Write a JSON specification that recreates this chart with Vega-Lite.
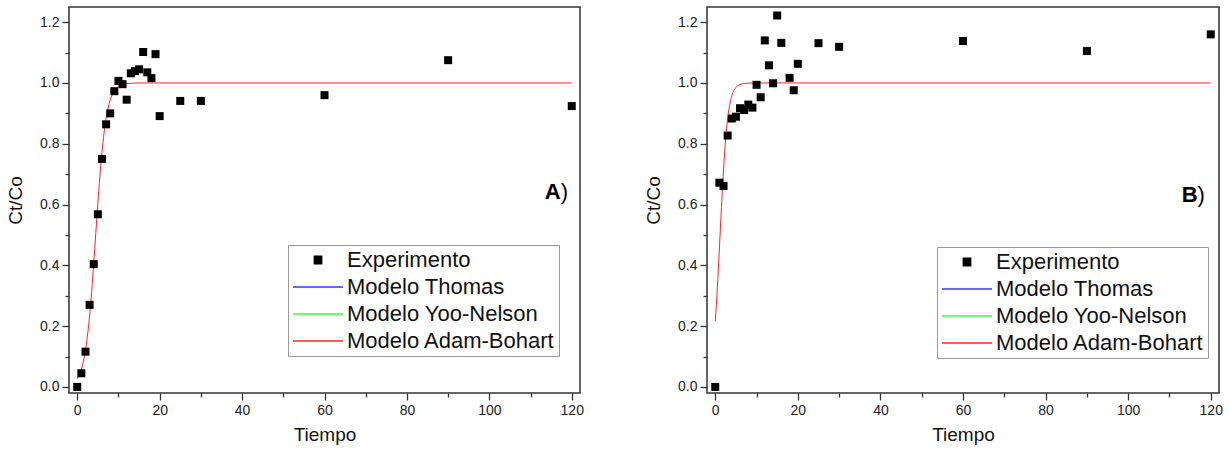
{
  "$schema": "https://vega.github.io/schema/vega-lite/v6.json",
  "padding": {"left": 5, "top": 6, "right": 5, "bottom": 2},
  "background": "white",
  "config": {
    "view": {"stroke": "#333", "strokeWidth": 1.5},
    "font": "Liberation Sans",
    "axis": {"labelFont": "Liberation Sans", "labelFontSize": 14, "labelColor": "#222", "titleFont": "Liberation Sans", "titleFontSize": 19, "titleFontWeight": "normal", "titleColor": "#111", "grid": false, "domain": false, "tickColor": "#333", "tickSize": 7, "tickWidth": 1.3, "labelPadding": 3, "titlePadding": 8},
    "axisY": {"titlePadding": 14},
    "legend": {"labelFont": "Liberation Sans", "labelFontSize": 22, "labelColor": "#111", "strokeColor": "#999", "fillColor": "white", "padding": 4, "labelOffset": 3, "rowPadding": 5, "symbolStrokeWidth": 1.2, "symbolSize": 2500, "symbolType": "stroke", "clipHeight": 22, "labelLimit": 400}
  },
  "datasets": {
    "ptsA": [
      {"t": 0, "c": 0.0, "series": "Experimento"}, {"t": 1, "c": 0.045, "series": "Experimento"}, {"t": 2, "c": 0.116, "series": "Experimento"},
      {"t": 3, "c": 0.27, "series": "Experimento"}, {"t": 4, "c": 0.404, "series": "Experimento"}, {"t": 5, "c": 0.568, "series": "Experimento"},
      {"t": 6, "c": 0.75, "series": "Experimento"}, {"t": 7, "c": 0.864, "series": "Experimento"}, {"t": 8, "c": 0.9, "series": "Experimento"},
      {"t": 9, "c": 0.973, "series": "Experimento"}, {"t": 10, "c": 1.007, "series": "Experimento"}, {"t": 11, "c": 0.996, "series": "Experimento"},
      {"t": 12, "c": 0.945, "series": "Experimento"}, {"t": 13, "c": 1.032, "series": "Experimento"}, {"t": 14, "c": 1.039, "series": "Experimento"},
      {"t": 15, "c": 1.045, "series": "Experimento"}, {"t": 16, "c": 1.102, "series": "Experimento"}, {"t": 17, "c": 1.035, "series": "Experimento"},
      {"t": 18, "c": 1.016, "series": "Experimento"}, {"t": 19, "c": 1.095, "series": "Experimento"}, {"t": 20, "c": 0.891, "series": "Experimento"},
      {"t": 25, "c": 0.941, "series": "Experimento"}, {"t": 30, "c": 0.941, "series": "Experimento"}, {"t": 60, "c": 0.96, "series": "Experimento"},
      {"t": 90, "c": 1.075, "series": "Experimento"}, {"t": 120, "c": 0.924, "series": "Experimento"}
    ],
    "curveA": [
      {"t": 0, "c": 0.027, "series": "Modelo Adam-Bohart"}, {"t": 0.5, "c": 0.04, "series": "Modelo Adam-Bohart"}, {"t": 1, "c": 0.058, "series": "Modelo Adam-Bohart"},
      {"t": 1.5, "c": 0.085, "series": "Modelo Adam-Bohart"}, {"t": 2, "c": 0.121, "series": "Modelo Adam-Bohart"}, {"t": 2.5, "c": 0.171, "series": "Modelo Adam-Bohart"},
      {"t": 3, "c": 0.235, "series": "Modelo Adam-Bohart"}, {"t": 3.5, "c": 0.314, "series": "Modelo Adam-Bohart"}, {"t": 4, "c": 0.406, "series": "Modelo Adam-Bohart"},
      {"t": 4.5, "c": 0.505, "series": "Modelo Adam-Bohart"}, {"t": 5, "c": 0.604, "series": "Modelo Adam-Bohart"}, {"t": 5.5, "c": 0.694, "series": "Modelo Adam-Bohart"},
      {"t": 6, "c": 0.772, "series": "Modelo Adam-Bohart"}, {"t": 6.5, "c": 0.835, "series": "Modelo Adam-Bohart"}, {"t": 7, "c": 0.883, "series": "Modelo Adam-Bohart"},
      {"t": 7.5, "c": 0.918, "series": "Modelo Adam-Bohart"}, {"t": 8, "c": 0.944, "series": "Modelo Adam-Bohart"}, {"t": 9, "c": 0.974, "series": "Modelo Adam-Bohart"},
      {"t": 10, "c": 0.988, "series": "Modelo Adam-Bohart"}, {"t": 11, "c": 0.995, "series": "Modelo Adam-Bohart"}, {"t": 12, "c": 0.998, "series": "Modelo Adam-Bohart"},
      {"t": 13, "c": 0.999, "series": "Modelo Adam-Bohart"}, {"t": 15, "c": 1.0, "series": "Modelo Adam-Bohart"}, {"t": 20, "c": 1.0, "series": "Modelo Adam-Bohart"},
      {"t": 120, "c": 1.0, "series": "Modelo Adam-Bohart"}
    ],
    "ptsB": [
      {"t": 0, "c": 0.0, "series": "Experimento"}, {"t": 1, "c": 0.672, "series": "Experimento"}, {"t": 2, "c": 0.661, "series": "Experimento"},
      {"t": 3, "c": 0.827, "series": "Experimento"}, {"t": 4, "c": 0.883, "series": "Experimento"}, {"t": 5, "c": 0.889, "series": "Experimento"},
      {"t": 6, "c": 0.917, "series": "Experimento"}, {"t": 7, "c": 0.911, "series": "Experimento"}, {"t": 8, "c": 0.929, "series": "Experimento"},
      {"t": 9, "c": 0.919, "series": "Experimento"}, {"t": 10, "c": 0.994, "series": "Experimento"}, {"t": 11, "c": 0.953, "series": "Experimento"},
      {"t": 12, "c": 1.14, "series": "Experimento"}, {"t": 13, "c": 1.058, "series": "Experimento"}, {"t": 14, "c": 0.999, "series": "Experimento"},
      {"t": 15, "c": 1.222, "series": "Experimento"}, {"t": 16, "c": 1.132, "series": "Experimento"}, {"t": 18, "c": 1.017, "series": "Experimento"},
      {"t": 19, "c": 0.976, "series": "Experimento"}, {"t": 20, "c": 1.063, "series": "Experimento"}, {"t": 25, "c": 1.131, "series": "Experimento"},
      {"t": 30, "c": 1.119, "series": "Experimento"}, {"t": 60, "c": 1.138, "series": "Experimento"}, {"t": 90, "c": 1.105, "series": "Experimento"},
      {"t": 120, "c": 1.16, "series": "Experimento"}
    ],
    "curveB": [
      {"t": 0, "c": 0.217, "series": "Modelo Adam-Bohart"}, {"t": 0.25, "c": 0.267, "series": "Modelo Adam-Bohart"}, {"t": 0.5, "c": 0.325, "series": "Modelo Adam-Bohart"},
      {"t": 0.75, "c": 0.387, "series": "Modelo Adam-Bohart"}, {"t": 1, "c": 0.454, "series": "Modelo Adam-Bohart"}, {"t": 1.25, "c": 0.523, "series": "Modelo Adam-Bohart"},
      {"t": 1.5, "c": 0.591, "series": "Modelo Adam-Bohart"}, {"t": 1.75, "c": 0.655, "series": "Modelo Adam-Bohart"}, {"t": 2, "c": 0.714, "series": "Modelo Adam-Bohart"},
      {"t": 2.5, "c": 0.813, "series": "Modelo Adam-Bohart"}, {"t": 3, "c": 0.883, "series": "Modelo Adam-Bohart"}, {"t": 3.5, "c": 0.929, "series": "Modelo Adam-Bohart"},
      {"t": 4, "c": 0.958, "series": "Modelo Adam-Bohart"}, {"t": 5, "c": 0.985, "series": "Modelo Adam-Bohart"}, {"t": 6, "c": 0.995, "series": "Modelo Adam-Bohart"},
      {"t": 7, "c": 0.998, "series": "Modelo Adam-Bohart"}, {"t": 8, "c": 0.9995, "series": "Modelo Adam-Bohart"}, {"t": 10, "c": 1.0, "series": "Modelo Adam-Bohart"},
      {"t": 120, "c": 1.0, "series": "Modelo Adam-Bohart"}
    ]
  },
  "spacing": 58,
  "resolve": {"scale": {"color": "independent"}, "legend": {"color": "independent"}},
  "hconcat": [
    {
      "width": 511, "height": 386,
      "resolve": {"axis": {"x": "independent", "y": "independent"}},
      "layer": [
        {
          "data": {"name": "curveA"},
          "mark": {"type": "line", "strokeWidth": 1, "interpolate": "monotone"},
          "encoding": {
            "x": {"field": "t", "type": "quantitative", "scale": {"domain": [-2, 122], "nice": false, "zero": false}, "axis": {"orient": "bottom", "values": [10, 30, 50, 70, 90, 110], "labels": false, "title": null, "tickSize": 4}},
            "y": {"field": "c", "type": "quantitative", "scale": {"domain": [-0.02, 1.25], "nice": false, "zero": false}, "axis": {"orient": "left", "values": [0.1, 0.3, 0.5, 0.7, 0.9, 1.1], "labels": false, "title": null, "tickSize": 4}},
            "color": {"field": "series", "type": "nominal", "scale": {"domain": ["Experimento", "Modelo Thomas", "Modelo Yoo-Nelson", "Modelo Adam-Bohart"], "range": ["#000000", "#3333ff", "#33ff33", "#ff2222"]},
              "legend": {"title": null, "orient": "none", "legendX": 219, "legendY": 238,
                "encode": {"symbols": {"update": {
                  "shape": {"signal": "datum.value === 'Experimento' ? 'square' : 'stroke'"},
                  "size": {"signal": "datum.value === 'Experimento' ? 56 : 2500"},
                  "fill": {"signal": "datum.value === 'Experimento' ? '#000000' : 'transparent'"},
                  "stroke": {"signal": "datum.value === 'Modelo Thomas' ? '#4444ff' : datum.value === 'Modelo Yoo-Nelson' ? '#44ff44' : datum.value === 'Modelo Adam-Bohart' ? '#ff4444' : 'transparent'"},
                  "strokeWidth": {"value": 1.3},
                  "opacity": {"value": 1}
                }}}}}
          }
        },
        {
          "data": {"name": "ptsA"},
          "mark": {"type": "point", "shape": "square", "filled": true, "opacity": 1, "size": 64},
          "encoding": {
            "x": {"field": "t", "type": "quantitative", "scale": {"domain": [-2, 122], "nice": false, "zero": false}, "axis": {"orient": "bottom", "values": [0, 20, 40, 60, 80, 100, 120], "title": "Tiempo"}},
            "y": {"field": "c", "type": "quantitative", "scale": {"domain": [-0.02, 1.25], "nice": false, "zero": false}, "axis": {"orient": "left", "values": [0, 0.2, 0.4, 0.6, 0.8, 1.0, 1.2], "format": ".1f", "title": "Ct/Co"}},
            "color": {"field": "series", "type": "nominal", "scale": {"domain": ["Experimento", "Modelo Thomas", "Modelo Yoo-Nelson", "Modelo Adam-Bohart"], "range": ["#000000", "#3333ff", "#33ff33", "#ff2222"]}}
          }
        },
        {
          "data": {"values": [{"t": 117.3, "c": 0.619, "label": "A"}]},
          "mark": {"type": "text", "align": "right", "baseline": "alphabetic", "fontSize": 22, "fontWeight": "bold", "font": "Liberation Sans", "color": "#000"},
          "encoding": {"x": {"field": "t", "type": "quantitative", "axis": null}, "y": {"field": "c", "type": "quantitative", "axis": null}, "text": {"field": "label"}}
        },
        {
          "data": {"values": [{"t": 117.3, "c": 0.619, "label": ")"}]},
          "mark": {"type": "text", "align": "left", "baseline": "alphabetic", "fontSize": 22, "font": "Liberation Sans", "color": "#000"},
          "encoding": {"x": {"field": "t", "type": "quantitative", "axis": null}, "y": {"field": "c", "type": "quantitative", "axis": null}, "text": {"field": "label"}}
        }
      ]
    },
    {
      "width": 512, "height": 386,
      "resolve": {"axis": {"x": "independent", "y": "independent"}},
      "layer": [
        {
          "data": {"name": "curveB"},
          "mark": {"type": "line", "strokeWidth": 1, "interpolate": "monotone"},
          "encoding": {
            "x": {"field": "t", "type": "quantitative", "scale": {"domain": [-2, 122], "nice": false, "zero": false}, "axis": {"orient": "bottom", "values": [10, 30, 50, 70, 90, 110], "labels": false, "title": null, "tickSize": 4}},
            "y": {"field": "c", "type": "quantitative", "scale": {"domain": [-0.02, 1.25], "nice": false, "zero": false}, "axis": {"orient": "left", "values": [0.1, 0.3, 0.5, 0.7, 0.9, 1.1], "labels": false, "title": null, "tickSize": 4}},
            "color": {"field": "series", "type": "nominal", "scale": {"domain": ["Experimento", "Modelo Thomas", "Modelo Yoo-Nelson", "Modelo Adam-Bohart"], "range": ["#000000", "#3333ff", "#33ff33", "#ff2222"]},
              "legend": {"title": null, "orient": "none", "legendX": 230, "legendY": 240,
                "encode": {"symbols": {"update": {
                  "shape": {"signal": "datum.value === 'Experimento' ? 'square' : 'stroke'"},
                  "size": {"signal": "datum.value === 'Experimento' ? 56 : 2500"},
                  "fill": {"signal": "datum.value === 'Experimento' ? '#000000' : 'transparent'"},
                  "stroke": {"signal": "datum.value === 'Modelo Thomas' ? '#4444ff' : datum.value === 'Modelo Yoo-Nelson' ? '#44ff44' : datum.value === 'Modelo Adam-Bohart' ? '#ff4444' : 'transparent'"},
                  "strokeWidth": {"value": 1.3},
                  "opacity": {"value": 1}
                }}}}}
          }
        },
        {
          "data": {"name": "ptsB"},
          "mark": {"type": "point", "shape": "square", "filled": true, "opacity": 1, "size": 64},
          "encoding": {
            "x": {"field": "t", "type": "quantitative", "scale": {"domain": [-2, 122], "nice": false, "zero": false}, "axis": {"orient": "bottom", "values": [0, 20, 40, 60, 80, 100, 120], "title": "Tiempo"}},
            "y": {"field": "c", "type": "quantitative", "scale": {"domain": [-0.02, 1.25], "nice": false, "zero": false}, "axis": {"orient": "left", "values": [0, 0.2, 0.4, 0.6, 0.8, 1.0, 1.2], "format": ".1f", "title": "Ct/Co"}},
            "color": {"field": "series", "type": "nominal", "scale": {"domain": ["Experimento", "Modelo Thomas", "Modelo Yoo-Nelson", "Modelo Adam-Bohart"], "range": ["#000000", "#3333ff", "#33ff33", "#ff2222"]}}
          }
        },
        {
          "data": {"values": [{"t": 116.8, "c": 0.608, "label": "B"}]},
          "mark": {"type": "text", "align": "right", "baseline": "alphabetic", "fontSize": 22, "fontWeight": "bold", "font": "Liberation Sans", "color": "#000"},
          "encoding": {"x": {"field": "t", "type": "quantitative", "axis": null}, "y": {"field": "c", "type": "quantitative", "axis": null}, "text": {"field": "label"}}
        },
        {
          "data": {"values": [{"t": 116.8, "c": 0.608, "label": ")"}]},
          "mark": {"type": "text", "align": "left", "baseline": "alphabetic", "fontSize": 22, "font": "Liberation Sans", "color": "#000"},
          "encoding": {"x": {"field": "t", "type": "quantitative", "axis": null}, "y": {"field": "c", "type": "quantitative", "axis": null}, "text": {"field": "label"}}
        }
      ]
    }
  ]
}
